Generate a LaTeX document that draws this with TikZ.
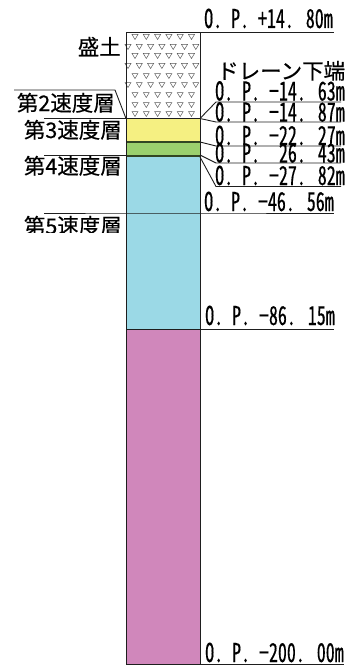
\documentclass[tikz,border=0pt]{standalone}
\usepackage{fontspec}
\newfontfamily\jpfont[FakeBold=0.4]{Noto Sans CJK JP}
\newfontfamily\opfont[FakeStretch=0.69,FakeBold=0.3,RawFeature=+hwid]{Noto Sans CJK JP}
\definecolor{lyellow}{RGB}{245,240,130}
\definecolor{lgreen}{RGB}{155,208,110}
\definecolor{lblue}{RGB}{155,217,230}
\definecolor{lpink}{RGB}{208,135,187}
\definecolor{lineink}{RGB}{30,30,30}
\definecolor{bandink}{RGB}{50,70,35}
\tikzset{
  oplabel/.style={anchor=base west,inner sep=0pt,font=\opfont\fontsize{26}{26}\selectfont,text=black},
  jplabel/.style={anchor=base east,inner sep=0pt,font=\jpfont\fontsize{21.5}{22}\selectfont,text=black},
  leader/.style={draw=lineink,line width=0.9pt},
  layer/.style={line width=0.9pt,draw=lineink},
  tri/.style={draw=black!65,line width=0.5pt,line join=miter}
}
\begin{document}
\begin{tikzpicture}[x=1pt,y=-1pt]
\useasboundingbox (0,0) rectangle (356,669);
% layers
\path[fill=white] (126,32) rectangle (200,118.5);
\foreach \r/\s in {37/135,56/135,76/135,95/135,47/128,66/128,85/128,105/135,114/135}{
  \foreach \i in {0,...,6}{
    \pgfmathsetmacro{\xx}{\s+\i*11.3}
    \ifdim\xx pt<197.5pt
      \draw[tri] (\xx-3,\r-2.5) -- (\xx+3,\r-2.5) -- (\xx,\r+2.5) -- cycle;
    \fi
  }
}
\path[fill=lyellow] (126,118.5) rectangle (200,142);
\path[fill=lgreen] (126,142) rectangle (200,155);
\path[fill=bandink] (126,155) rectangle (200,157);
\path[fill=lblue] (126,157) rectangle (200,329);
\path[fill=lpink] (126,329) rectangle (200,664);
% named levels
\coordinate (c0) at (200,32);
\coordinate (c1) at (200,118.5);
\coordinate (c2) at (200,142);
\coordinate (c3) at (200,155);
\coordinate (c4) at (200,157);
\coordinate (c5) at (200,213);
\coordinate (c6) at (200,329);
\coordinate (c7) at (200,664);
\coordinate (l1) at (126,118.5);
\coordinate (l3) at (126,155);
\coordinate (l5) at (126,213);
\coordinate (l6) at (126,329);
\coordinate (l7) at (126,664);
\coordinate (l0) at (126,32);
% horizontal layer lines
\draw[layer] (l1) -- (c1);
\draw[layer,line width=1.3pt,draw=bandink] (126,142) -- (c2);
\draw[layer] (l6) -- (c6);
\draw[layer] (l0) -- (l7) -- (c7) -- (c0) -- cycle;
% leaders
\draw[leader] (c0) -- (334,32);
\draw[leader] (44,118.5) -- (l1);
\draw[leader] (44,155) -- (l3);
\draw[leader] (44,213) -- (l5) -- (c5) -- (334,213);
\draw[leader] (c6) -- (334,329);
\draw[leader] (c7) -- (344,664);
\draw[leader] (14,90) -- (115,90) -- (l1);
\draw[leader] (c1) -- (216,102) -- (341,102);
\draw[leader] (c1) -- (216,122) -- (341,122);
\draw[leader] (c2) -- (216,146) -- (341,146);
\draw[leader] (c3) -- (216,163) -- (341,163);
\draw[leader] (c4) -- (216,186.5) -- (341,186.5);
% elevation labels
\node[oplabel] (a0) at (204,28) {O. P. +14. 80m};
\node[oplabel] (a1) at (215,100.5) {O. P. −14. 63m};
\node[oplabel] (a2) at (215,121.5) {O. P. −14. 87m};
\node[oplabel] (a3) at (215,145) {O. P. −22. 27m};
\node[oplabel] (a4) at (215,162.5) {O. P. \phantom{−}26. 43m};
\node[oplabel] (a5) at (215,185) {O. P. −27. 82m};
\node[oplabel] (a6) at (204,211) {O. P. −46. 56m};
\node[oplabel] (a7) at (205,325) {O. P. −86. 15m};
\node[oplabel] (a8) at (205,662) {O. P. −200. 00m};
\node[jplabel,anchor=base west] (drain) at (217,79) {ドレーン下端};
\node[jplabel] (fill) at (121,55) {盛土};
\node[jplabel] (v2) at (115,111) {第2速度層};
\node[jplabel] (v3) at (122,138) {第3速度層};
\node[jplabel] (v4) at (122,174) {第4速度層};
\begin{scope}
\clip (0,213) rectangle (126,232);
\node[jplabel] (v5) at (122,234) {第5速度層};
\end{scope}
\end{tikzpicture}
\end{document}
